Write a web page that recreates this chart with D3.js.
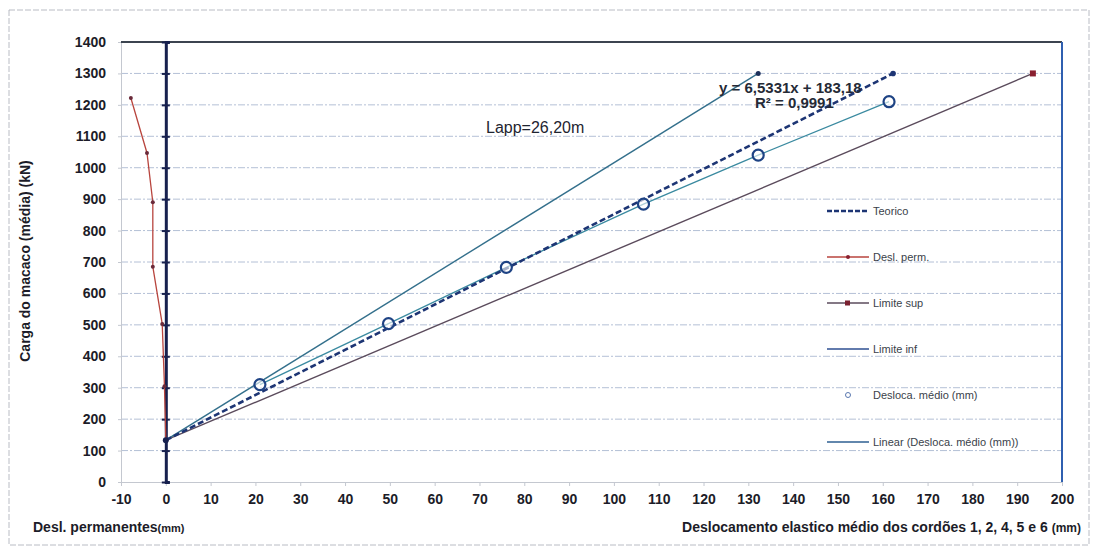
<!DOCTYPE html>
<html>
<head>
<meta charset="utf-8">
<script src="https://cdn.jsdelivr.net/npm/d3@7"></script>
<style>
  body { margin: 0; background: #fff; }
  text { font-family: "Liberation Sans", Arial, sans-serif; }
</style>
</head>
<body>
<div id="chart"></div>
<script>
// tick labels
var xTicks = [-10, 0, 10, 20, 30, 40, 50, 60, 70, 80, 90, 100, 110, 120, 130, 140, 150, 160, 170, 180, 190, 200];
var yTicks = [0, 100, 200, 300, 400, 500, 600, 700, 800, 900, 1000, 1100, 1200, 1300, 1400];

// series
var deslPermX = [-7.8, -4.2, -2.9, -2.9, -0.8, -0.3, 0];
var deslPermY = [1222, 1047, 890, 685, 503, 305, 133];
var limSupX = [0, 193.5];
var limSupY = [133, 1300];
var limInfX = [0, 132.2];
var limInfY = [133, 1300];
var teoricoX = [0, 162.3];
var teoricoY = [133, 1300];
var deslocaX = [21, 49.7, 76, 106.6, 132.2, 161.4];
var deslocaY = [310, 504, 683, 884, 1040, 1210];

var legendNames = ["Teorico", "Desl. perm.", "Limite sup", "Limite inf", "Desloca. médio (mm)", "Linear (Desloca. médio (mm))"];

var width = 1093, height = 553;
var margin = { top: 42, bottom: 71, left: 121, right: 31 };

var svg = d3.select("#chart").append("svg")
  .attr("width", width)
  .attr("height", height);

// outer frame
svg.append("rect")
  .attr("x", 9).attr("y", 10)
  .attr("width", 1080).attr("height", 535)
  .attr("fill", "none")
  .attr("stroke", "#b9bcc4")
  .attr("stroke-dasharray", "6,2");

var xScale = d3.scaleLinear().domain([-10, 200]).range([margin.left, width - margin.right]);
var yScale = d3.scaleLinear().domain([0, 1400]).range([height - margin.bottom, margin.top]);

function zip(xs, ys) { return xs.map(function(x, i) { return [x, ys[i]]; }); }

// gridlines
svg.append("g")
  .selectAll("line")
  .data(yTicks.slice(1, -1))
  .enter().append("line")
  .attr("x1", xScale(-10)).attr("x2", xScale(200))
  .attr("y1", d => yScale(d)).attr("y2", d => yScale(d))
  .attr("stroke", "#b4c0d6")
  .attr("stroke-width", 1)
  .attr("stroke-dasharray", "7,2,2,2");

// y axis (left)
var axisY = d3.axisLeft(yScale).tickValues(yTicks).tickSize(3).tickPadding(12)
  .tickFormat(d => String(d));
var gy = svg.append("g")
  .attr("transform", "translate(" + xScale(-10) + ",0)")
  .call(axisY);
gy.select(".domain").attr("stroke", "#c4c8d0");
gy.selectAll(".tick line").attr("stroke", "#c4c8d0");
gy.selectAll("text")
  .attr("font-size", "14px").attr("font-weight", "bold").attr("fill", "#1c1c28")
  .attr("font-family", "Liberation Sans, Arial, sans-serif");

// x axis (bottom)
var axisX = d3.axisBottom(xScale).tickValues(xTicks).tickSize(4).tickPadding(8)
  .tickFormat(d => String(d));
var gx = svg.append("g")
  .attr("transform", "translate(0," + yScale(0) + ")")
  .call(axisX);
gx.select(".domain").attr("stroke", "#c4c8d0");
gx.selectAll(".tick line").attr("stroke", "#c4c8d0");
gx.selectAll("text")
  .attr("font-size", "14px").attr("font-weight", "bold").attr("fill", "#1c1c28")
  .attr("font-family", "Liberation Sans, Arial, sans-serif");

// plot border top and right
svg.append("line")
  .attr("x1", xScale(-10)).attr("x2", xScale(200))
  .attr("y1", yScale(1400)).attr("y2", yScale(1400))
  .attr("stroke", "#3c4450").attr("stroke-width", 1.8);
svg.append("line")
  .attr("x1", xScale(200)).attr("x2", xScale(200))
  .attr("y1", yScale(1400)).attr("y2", yScale(0))
  .attr("stroke", "#2f5fb0").attr("stroke-width", 2);

// secondary axis at x = 0
var axis0 = d3.axisRight(yScale).tickValues(yTicks).tickSize(4).tickFormat("");
var g0 = svg.append("g")
  .attr("transform", "translate(" + xScale(0) + ",0)")
  .call(axis0);
g0.select(".domain").attr("stroke", "#17204e").attr("stroke-width", 3);
g0.selectAll(".tick line").attr("stroke", "#17204e").attr("stroke-width", 2)
  .attr("x1", -4);

var line = d3.line().x(d => xScale(d[0])).y(d => yScale(d[1]));

// Limite sup
svg.append("path")
  .datum(zip(limSupX, limSupY))
  .attr("d", line)
  .attr("fill", "none").attr("stroke", "#5b4b5c").attr("stroke-width", 1.4);
svg.append("rect")
  .attr("x", xScale(limSupX[1]) - 3).attr("y", yScale(limSupY[1]) - 3)
  .attr("width", 6).attr("height", 6).attr("fill", "#8a2030");

// Limite inf
svg.append("path")
  .datum(zip(limInfX, limInfY))
  .attr("d", line)
  .attr("fill", "none").attr("stroke", "#34708c").attr("stroke-width", 1.4);
svg.append("circle")
  .attr("cx", xScale(limInfX[1])).attr("cy", yScale(limInfY[1]))
  .attr("r", 2.5).attr("fill", "#1c2f5a");

// Linear trend through the points
svg.append("path")
  .datum(zip(deslocaX, deslocaY))
  .attr("d", line)
  .attr("fill", "none").attr("stroke", "#3a8aa0").attr("stroke-width", 1.3);

// Teorico (dashed)
svg.append("path")
  .datum(zip(teoricoX, teoricoY))
  .attr("d", line)
  .attr("fill", "none").attr("stroke", "#1d3574").attr("stroke-width", 2.6)
  .attr("stroke-dasharray", "6,3");
svg.append("circle")
  .attr("cx", xScale(teoricoX[1])).attr("cy", yScale(teoricoY[1]))
  .attr("r", 2.8).attr("fill", "#1d3574");

// Desl. perm.
svg.append("path")
  .datum(zip(deslPermX, deslPermY))
  .attr("d", line)
  .attr("fill", "none").attr("stroke", "#b8453e").attr("stroke-width", 1.3);
svg.append("g").selectAll("circle")
  .data(zip(deslPermX, deslPermY).slice(0, -1))
  .enter().append("circle")
  .attr("cx", d => xScale(d[0])).attr("cy", d => yScale(d[1]))
  .attr("r", 2).attr("fill", "#6a2a3a");

// origin marker
svg.append("circle")
  .attr("cx", xScale(0)).attr("cy", yScale(133))
  .attr("r", 3).attr("fill", "#17204e");

// Desloca médio circles
svg.append("g").selectAll("circle")
  .data(zip(deslocaX, deslocaY))
  .enter().append("circle")
  .attr("cx", d => xScale(d[0])).attr("cy", d => yScale(d[1]))
  .attr("r", 5.5)
  .attr("fill", "#fff").attr("fill-opacity", 0.6)
  .attr("stroke", "#1e4384").attr("stroke-width", 2.2);

// annotations
svg.append("text")
  .attr("x", 486).attr("y", 133)
  .attr("font-size", "16px").attr("fill", "#1e2430")
  .text("Lapp=26,20m");
svg.append("text")
  .attr("x", 719).attr("y", 93)
  .attr("font-size", "15px").attr("font-weight", "bold").attr("fill", "#252a36")
  .text("y = 6,5331x + 183,18");
svg.append("text")
  .attr("x", 755).attr("y", 108)
  .attr("font-size", "15px").attr("font-weight", "bold").attr("fill", "#252a36")
  .text("R² = 0,9991");

// legend
var legY = [211, 257, 303, 349, 395, 442];
var leg = svg.append("g").selectAll("g")
  .data(legendNames)
  .enter().append("g")
  .attr("transform", (d, i) => "translate(0," + legY[i] + ")");
leg.append("text")
  .attr("x", 873).attr("y", 4)
  .attr("font-size", "11px").attr("fill", "#3a3f4a")
  .text(d => d);
leg.filter((d, i) => i != 4).append("line")
  .attr("x1", 827).attr("x2", 869).attr("y1", 0).attr("y2", 0)
  .attr("stroke", (d, i) => ["#1d3574", "#b8453e", "#5b4b5c", "#2e4f92", null, "#2e5f92"][legendNames.indexOf(d)])
  .attr("stroke-width", (d) => d == "Teorico" ? 2.4 : 1.4)
  .attr("stroke-dasharray", (d) => d == "Teorico" ? "5,2" : null);
leg.filter(d => d == "Desl. perm.").append("circle")
  .attr("cx", 848).attr("cy", 0).attr("r", 2).attr("fill", "#8a2030");
leg.filter(d => d == "Limite sup").append("rect")
  .attr("x", 845).attr("y", -2.5).attr("width", 5).attr("height", 5).attr("fill", "#7a2030");
leg.filter(d => d == "Desloca. médio (mm)").append("circle")
  .attr("cx", 848).attr("cy", 0).attr("r", 2.5)
  .attr("fill", "none").attr("stroke", "#5a78b0").attr("stroke-width", 1);

// axis titles
svg.append("text")
  .attr("transform", "translate(30," + 261 + ") rotate(-90)")
  .attr("text-anchor", "middle")
  .attr("font-size", "14px").attr("font-weight", "bold").attr("fill", "#1c1c28")
  .text("Carga do macaco (média) (kN)");

var t1 = svg.append("text")
  .attr("x", 33).attr("y", 532)
  .attr("font-size", "14px").attr("font-weight", "bold").attr("fill", "#1c1c28");
t1.append("tspan").text("Desl. permanentes");
t1.append("tspan").attr("font-size", "11px").text("(mm)");

var t2 = svg.append("text")
  .attr("x", 1081).attr("y", 532)
  .attr("text-anchor", "end")
  .attr("font-size", "14px").attr("font-weight", "bold").attr("fill", "#1c1c28");
t2.append("tspan").text("Deslocamento elastico médio dos cordões 1, 2, 4, 5 e 6 ");
t2.append("tspan").attr("font-size", "12px").text("(mm)");
</script>
</body>
</html>
